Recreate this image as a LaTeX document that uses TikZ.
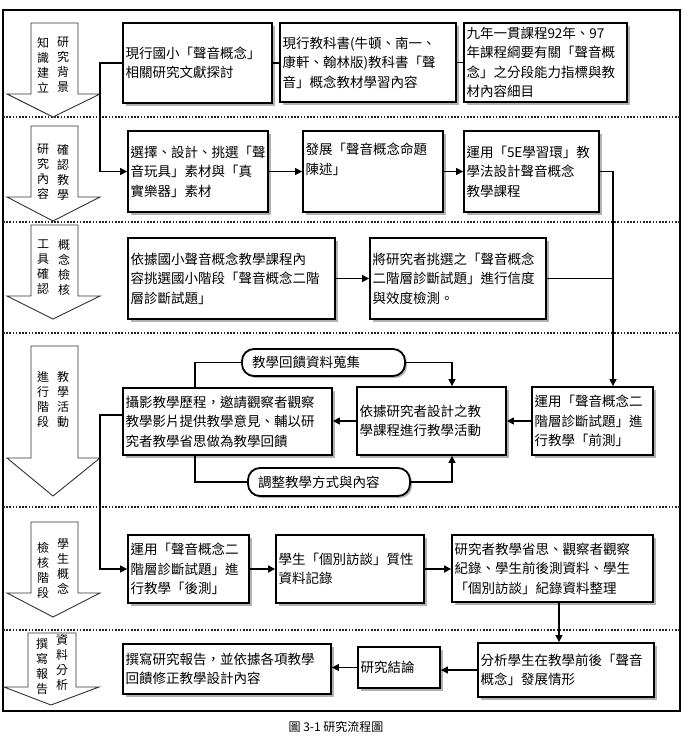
\documentclass[tikz,border=0pt]{standalone}
\usepackage{fontspec}
\setmainfont{Noto Sans CJK TC}
\usetikzlibrary{shadows,arrows.meta}
\begin{document}
\begin{tikzpicture}[x=1pt,y=-1pt,
  box/.style={draw, line width=1.8pt, fill=white,
    drop shadow={shadow xshift=3pt, shadow yshift=-3pt, fill=black!30, opacity=1},
    inner xsep=2.5pt, inner ysep=1pt, align=left,
    font=\fontsize{13.5}{19.5}\selectfont},
  pill/.style={draw, line width=1.8pt, fill=white, rounded corners=12pt,
    drop shadow={shadow xshift=2pt, shadow yshift=-2pt, fill=black!30, opacity=1},
    inner xsep=10pt, inner ysep=1pt, align=left,
    font=\fontsize{13.5}{19.5}\selectfont},
  lab/.style={font=\fontsize{12}{15}\selectfont, align=center, inner sep=0pt},
  conn/.style={line width=1.4pt},
  arr/.style={conn, -{Triangle[length=7pt,width=7pt]}},
  dotline/.style={line width=1.8pt, dash pattern=on 1.6pt off 1.6pt, black!85},
  bigarrow/.style={draw=black!80, line width=0.9pt, fill=white}]
\useasboundingbox (0,0) rectangle (682,736);
% frame
\draw[line width=1.4pt] (3,10) rectangle (680,711);
% dotted separators
\foreach \yy in {117,222,333,507,630}
  \draw[dotline] (3,\yy) -- (680,\yy);
% big arrows (stage markers)
\draw[bigarrow] (31,23) -- (78,23) -- (78,94) -- (100,94) -- (53,117) -- (7,94) -- (31,94) -- cycle;
\draw[bigarrow] (31,126) -- (78,126) -- (78,197) -- (100,197) -- (53,221) -- (7,197) -- (31,197) -- cycle;
\draw[bigarrow] (31,225) -- (78,225) -- (78,296) -- (100,296) -- (53,319) -- (7,296) -- (31,296) -- cycle;
\draw[bigarrow] (31,346) -- (78,346) -- (78,458) -- (100,458) -- (53,496) -- (7,458) -- (31,458) -- cycle;
\draw[bigarrow] (31,522) -- (78,522) -- (78,593) -- (100,593) -- (53,617) -- (7,593) -- (31,593) -- cycle;
\draw[bigarrow] (28,633) -- (76,633) -- (76,687) -- (99,687) -- (51,705) -- (4,687) -- (28,687) -- cycle;
% stage labels
\node[lab] (l1a) at (43,65) {知\\識\\建\\立};
\node[lab] (l1b) at (63,65) {研\\究\\背\\景};
\node[lab] (l2a) at (43,172) {研\\究\\內\\容};
\node[lab] (l2b) at (63,172) {確\\認\\教\\學};
\node[lab] (l3a) at (43,267) {工\\具\\確\\認};
\node[lab] (l3b) at (64,267) {概\\念\\檢\\核};
\node[lab] (l4a) at (43,399) {進\\行\\階\\段};
\node[lab] (l4b) at (63,399) {教\\學\\活\\動};
\node[lab] (l5a) at (43,570) {檢\\核\\階\\段};
\node[lab] (l5b) at (63,566) {學\\生\\概\\念};
\node[lab] (l6a) at (42,666) {撰\\寫\\報\\告};
\node[lab] (l6b) at (62,662) {資\\料\\分\\析};
% row 1
\node[box, text width=144pt, minimum height=80pt] (b1) at (197.5,63) {現行國小「聲音概念」\\相關研究文獻探討};
\node[box, text width=171pt, minimum height=79pt] (b2) at (368,62.5) {現行教科書(牛頓、南一、\\康軒、翰林版)教科書「聲\\音」概念教材學習內容};
\node[box, text width=158pt, minimum height=79pt] (b3) at (545.5,62.5) {九年一貫課程92年、97\\年課程綱要有關「聲音概\\念」之分段能力指標與教\\材內容細目};
% row 2
\node[box, text width=135pt, minimum height=81pt] (b4) at (198,171.5) {選擇、設計、挑選「聲\\音玩具」素材與「真\\實樂器」素材};
\node[box, text width=135pt, minimum height=81pt] (b5) at (373,171.5) {發展「聲音概念命題\\陳述」\\\strut};
\node[box, text width=130pt, minimum height=81pt] (b6) at (531.5,171.5) {運用「5E學習環」教\\學法設計聲音概念\\教學課程};
% row 3
\node[box, text width=202pt, minimum height=81pt] (b7) at (231.5,278.5) {依據國小聲音概念教學課程內\\容挑選國小階段「聲音概念二階\\層診斷試題」};
\node[box, text width=171pt, minimum height=81pt] (b8) at (458,278.5) {將研究者挑選之「聲音概念\\二階層診斷試題」進行信度\\與效度檢測。};
% row 4
\node[box, text width=204pt, minimum height=67pt] (b9) at (227.5,421.5) {攝影教學歷程，邀請觀察者觀察\\教學影片提供教學意見、輔以研\\究者教學省思做為教學回饋};
\node[box, text width=144pt, minimum height=68pt] (b10) at (431.5,421) {依據研究者設計之教\\學課程進行教學活動};
\node[box, text width=116pt, minimum height=68pt] (b11) at (592.5,421) {運用「聲音概念二\\階層診斷試題」進\\行教學「前測」};
\node[pill, text width=143pt, minimum height=27pt] (fb1) at (323.5,362.5) {教學回饋資料蒐集};
\node[pill, text width=142pt, minimum height=28pt] (fb2) at (329,482) {調整教學方式與內容};
% row 5
\node[box, text width=116pt, minimum height=68pt] (b12) at (188.5,569) {運用「聲音概念二\\階層診斷試題」進\\行教學「後測」};
\node[box, text width=143pt, minimum height=68pt] (b13) at (350,569) {學生「個別訪談」質性\\資料記錄};
\node[box, text width=196pt, minimum height=67pt] (b14) at (552.5,568.5) {研究者教學省思、觀察者觀察\\紀錄、學生前後測資料、學生\\「個別訪談」紀錄資料整理};
% row 6
\node[box, text width=203pt, minimum height=50pt] (b15) at (227,669) {撰寫研究報告，並依據各項教學\\回饋修正教學設計內容};
\node[box, text width=77pt, minimum height=41pt] (b16) at (399,667.5) {研究結論};
\node[box, text width=171pt, minimum height=54pt] (b17) at (566,670) {分析學生在教學前後「聲音\\概念」發展情形};
% caption
\node[font=\fontsize{12}{14}\selectfont, inner sep=0pt] (cap) at (336,727) {圖 3-1 研究流程圖};
% junction coordinates
\coordinate (j1) at (100,63);
\coordinate (j2) at (613,0);
\coordinate (j3) at (195,0);
\coordinate (j4) at (452,0);
\coordinate (j5) at (100,415);
\coordinate (j6) at (559,0);
% connectors
\draw[conn] (b1.east) -- (b1.east -| b2.west);
\draw[conn] (b2.east) -- (b2.east -| b3.west);
\draw[arr] (b1.west |- j1) -- (j1) |- (b4.west);
\draw[arr] (b4.east) -- (b4.east -| b5.west);
\draw[arr] (b5.east) -- (b5.east -| b6.west);
\draw[arr] (b6.east) -| (j2 |- b11.north);
\draw[arr] (b7.east) -- (b7.east -| b8.west);
\draw[conn] (b8.east) -- (b8.east -| j2);
\draw[arr] (b11.west) -- (b11.west -| b10.east);
\draw[arr] (b10.west) -- (b10.west -| b9.east);
\draw[conn] (j3 |- b9.north) |- (fb1.west);
\draw[arr] (fb1.east) -| (j4 |- b10.north);
\draw[conn] (j3 |- b9.south) |- (fb2.west);
\draw[arr] (fb2.east) -| (j4 |- b10.south);
\draw[arr] (b9.west |- j5) -- (j5) |- (b12.west);
\draw[arr] (b12.east) -- (b12.east -| b13.west);
\draw[arr] (b13.east) -- (b13.east -| b14.west);
\draw[arr] (j6 |- b14.south) -- (j6 |- b17.north);
\draw[arr] (b17.west) -- (b17.west -| b16.east);
\draw[arr] (b16.west) -- (b16.west -| b15.east);
\end{tikzpicture}
\end{document}
